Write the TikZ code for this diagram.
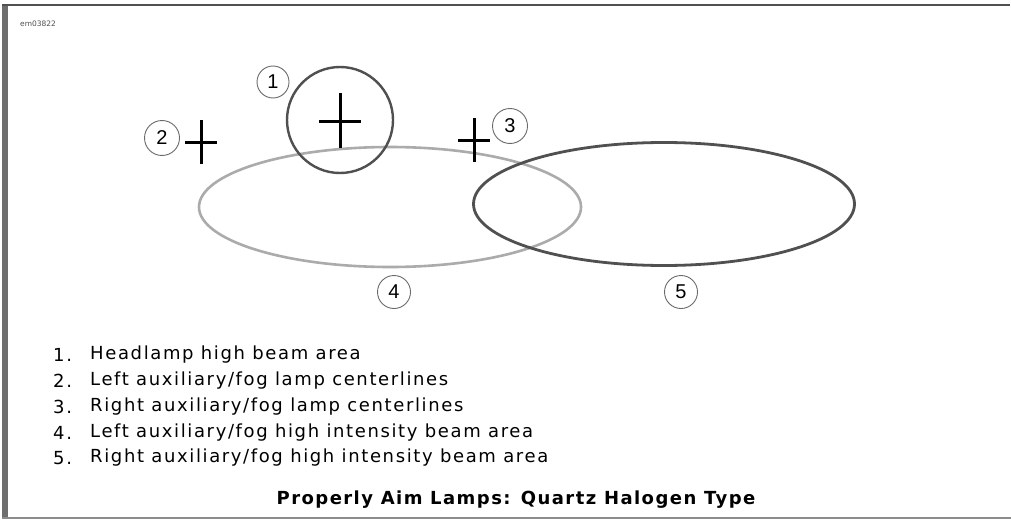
\documentclass[tikz,border=0pt]{standalone}
\usepackage{fontspec}
\setmainfont{DejaVu Sans}
\newfontfamily\listfont[LetterSpace=9]{DejaVu Sans}
\newfontfamily\capfont[LetterSpace=8]{DejaVu Sans}
\newfontfamily\numfont{Liberation Sans}
\usetikzlibrary{shapes.geometric}
\definecolor{darkg}{HTML}{505050}
\definecolor{lightg}{HTML}{ABABAB}
\definecolor{frameg}{HTML}{6E6E6E}
\tikzset{
  callout/.style={circle,draw=darkg!85,line width=0.9pt,minimum size=35pt,inner sep=0pt,font=\numfont\fontsize{20}{20}\selectfont},
  crossline/.style={line width=3pt,black},
  beam/.style={ellipse,inner sep=0pt,line width=2.6pt},
  listnum/.style={anchor=west,inner sep=0pt,font=\listfont\fontsize{18}{20}\selectfont},
  listtxt/.style={anchor=west,inner sep=0pt,font=\listfont\fontsize{18}{20}\selectfont}
}
\begin{document}
\begin{tikzpicture}[x=1pt,y=-1pt]
\useasboundingbox (0,0) rectangle (1011,519);
\fill[white] (0,0) rectangle (1011,519);
% frame
\fill[frameg] (2,4) rectangle (8,519);
\draw[line width=1.6pt,darkg] (2,5) -- (1010,5);
\draw[line width=2pt,gray!90] (2,518) -- (1011,518);
\node[inner sep=0pt,anchor=west,font=\fontsize{7.5}{7.5}\selectfont,darkg] (tag) at (20,24) {em03822};
% beams
\node[beam,draw=lightg,minimum width=382pt,minimum height=120pt] (e4) at (390,207) {};
\node[beam,draw=darkg,line width=2.8pt,minimum width=381pt,minimum height=123pt] (e5) at (664,204) {};
\node[circle,draw=darkg,line width=2.4pt,minimum size=106pt,inner sep=0pt] (c1) at (340,120) {};
% crosses
\coordinate (x1) at (340,121);
\draw[crossline] ([xshift=-21pt]x1) -- ([xshift=21pt]x1);
\draw[crossline] ([yshift=-27pt]x1) -- ([yshift=28pt]x1);
\coordinate (x2) at (201,142);
\draw[crossline] ([xshift=-16pt]x2) -- ([xshift=16pt]x2);
\draw[crossline] ([yshift=-22pt]x2) -- ([yshift=22pt]x2);
\coordinate (x3) at (474,140);
\draw[crossline] ([xshift=-16pt]x3) -- ([xshift=16pt]x3);
\draw[crossline] ([yshift=-22pt]x3) -- ([yshift=22pt]x3);
% callouts
\node[callout,minimum size=32pt] (l1) at (273,82) {1};
\node[callout] (l2) at (162,138) {2};
\node[callout] (l3) at (510,126) {3};
\node[callout,minimum size=33pt] (l4) at (394,292) {4};
\node[callout,minimum size=33pt] (l5) at (681,292) {5};
% list
\node[listnum] (n1) at (53,355) {1.};
\node[listtxt] (t1) at (90,355) {Headlamp high beam area};
\node[listnum] (n2) at (53,381) {2.};
\node[listtxt] (t2) at (90,381) {Left auxiliary/fog lamp centerlines};
\node[listnum] (n3) at (53,407) {3.};
\node[listtxt] (t3) at (90,407) {Right auxiliary/fog lamp centerlines};
\node[listnum] (n4) at (53,433) {4.};
\node[listtxt] (t4) at (90,433) {Left auxiliary/fog high intensity beam area};
\node[listnum] (n5) at (53,458) {5.};
\node[listtxt] (t5) at (90,458) {Right auxiliary/fog high intensity beam area};
\node[inner sep=0pt,font=\capfont\bfseries\fontsize{18}{20}\selectfont] (cap) at (516,500) {Properly Aim Lamps: Quartz Halogen Type};
\end{tikzpicture}
\end{document}
